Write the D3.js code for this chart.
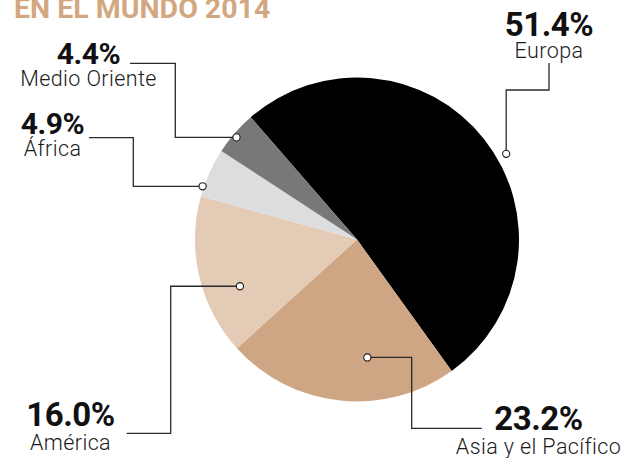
<!DOCTYPE html>
<html><head><meta charset="utf-8">
<script src="https://cdn.jsdelivr.net/npm/d3@7"></script>
<style>
html,body{margin:0;padding:0;background:#fff;}
svg{display:block;}
</style></head>
<body>
<svg id="chart" width="635" height="458"></svg>
<script>
// ---- data ----
const title = "EN EL MUNDO 2014";
const regions = ["Europa", "Asia y el Pacífico", "América", "África", "Medio Oriente"];
const shares = [51.4, 23.2, 16.0, 4.9, 4.4];
const labels = ["51.4%", "23.2%", "16.0%", "4.9%", "4.4%"];
const colors = ["#000000", "#cfa684", "#e3cbb6", "#dcddde", "#78787b"];

// ---- layout ----
const W = 635, H = 458;
const cx = 357, cy = 239.5, R = 162;
const startDeg = -41;
// dot placement inside each slice: fraction along slice angle, fraction of radius
const dotFrac = [0.546, 0.368, 0.354, 0.2, 0.45];
const dotK = [1.062, 0.731, 0.778, 1.008, 0.975];
// label placement (center x, percent baseline, name baseline, pct size)
const labelPos = [
  {x: 549, pY: 36, nY: 57.5, ps: 33},
  {x: 538.5, pY: 429.5, nY: 453.5, ps: 33},
  {x: 70.5, pY: 425.5, nY: 450, ps: 33},
  {x: 52.5, pY: 133.5, nY: 156, ps: 30},
  {x: 88.5, pY: 63.5, nY: 86, ps: 30}
];
// leader elbows
const leaders = [
  {type: "v", vy: 90, hx: 549, ey: 63},
  {type: "h", hx: 411.7, vy: 428.3, ex: 481.7},
  {type: "h", hx: 170.7, vy: 433.3, ex: 126.7},
  {type: "h", hx: 133.3, vy: 137.7, ex: 89},
  {type: "h", hx: 175.3, vy: 63.3, ex: 130}
];

const svg = d3.select("#chart");
const data = regions.map((r, i) => ({region: r, value: shares[i], label: labels[i], i}));

const pie = d3.pie().sort(null).value(d => d.value)
  .startAngle(startDeg * Math.PI / 180)
  .endAngle((startDeg + 360) * Math.PI / 180);
const arcs = pie(data);
const arc = d3.arc().innerRadius(0).outerRadius(R);

const g = svg.append("g").attr("transform", `translate(${cx},${cy})`);
g.selectAll("path").data(arcs).join("path")
  .attr("d", arc)
  .attr("fill", d => colors[d.data.i]);

// title (partially cropped at top, as in the reference)
svg.append("text")
  .attr("x", 14).attr("y", 17.5)
  .attr("font-family", "Roboto, 'DejaVu Sans', sans-serif")
  .attr("font-weight", 700)
  .attr("font-size", 28.5)
  .attr("fill", "#d3a77f")
  .text(title);

// leaders and dots
arcs.forEach(a => {
  const i = a.data.i;
  const ang = a.startAngle + dotFrac[i] * (a.endAngle - a.startAngle);
  const r = R * dotK[i];
  const px = cx + r * Math.sin(ang);
  const py = cy - r * Math.cos(ang);
  const L = leaders[i];
  let pts;
  if (L.type === "v") {
    pts = [[px, py], [px, L.vy], [L.hx, L.vy], [L.hx, L.ey]];
  } else {
    pts = [[px, py], [L.hx, py], [L.hx, L.vy], [L.ex, L.vy]];
  }
  svg.append("path")
    .attr("d", d3.line()(pts))
    .attr("fill", "none")
    .attr("stroke", "#2a2a2a")
    .attr("stroke-width", 1.3);
  svg.append("circle")
    .attr("cx", px).attr("cy", py).attr("r", 3.6)
    .attr("fill", "#fff")
    .attr("stroke", "#1a1a1a")
    .attr("stroke-width", 1.1);
});

// labels
arcs.forEach(a => {
  const i = a.data.i;
  const p = labelPos[i];
  svg.append("text")
    .attr("x", p.x).attr("y", p.pY)
    .attr("text-anchor", "middle")
    .attr("font-family", "Roboto, 'DejaVu Sans', sans-serif")
    .attr("font-weight", 700)
    .attr("font-size", p.ps)
    .attr("letter-spacing", -0.5)
    .attr("fill", "#111")
    .text(a.data.label);
  svg.append("text")
    .attr("x", p.x).attr("y", p.nY)
    .attr("text-anchor", "middle")
    .attr("font-family", "Roboto, 'DejaVu Sans', sans-serif")
    .attr("font-weight", 300)
    .attr("font-size", 21.5)
    .attr("letter-spacing", 0.4)
    .attr("fill", "#1a1a1a")
    .text(a.data.region);
});
</script>
</body></html>
